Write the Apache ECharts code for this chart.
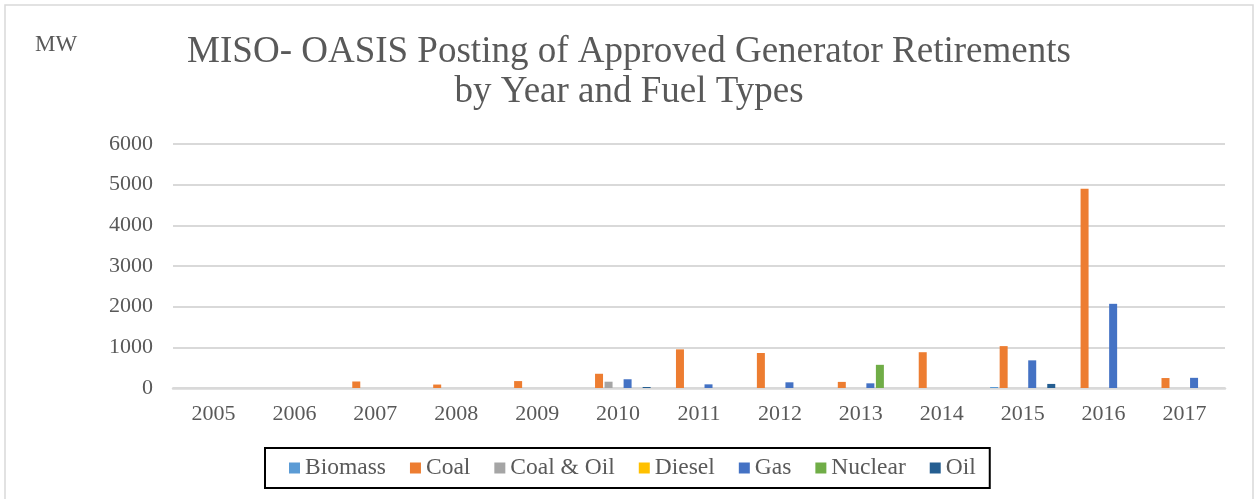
<!DOCTYPE html>
<html>
<head>
<meta charset="utf-8">
<script src="https://cdn.jsdelivr.net/npm/echarts@6/dist/echarts.min.js"></script>
<style>
	html, body { margin: 0; padding: 0; background: #fff; }
	#main { width: 1258px; height: 499px; }
</style>
</head>
<body>
<div id="main"></div>
<script>
	var years = ['2005', '2006', '2007', '2008', '2009', '2010', '2011', '2012', '2013', '2014', '2015', '2016', '2017'];
	var biomass = [0, 0, 0, 0, 0, 0, 0, 0, 0, 0, 25, 0, 0];
	var coal = [0, 0, 160, 85, 170, 350, 950, 860, 150, 880, 1030, 4900, 245];
	var coalOil = [0, 0, 0, 0, 0, 155, 0, 0, 0, 0, 0, 0, 0];
	var diesel = [0, 0, 0, 0, 0, 0, 0, 0, 0, 0, 0, 0, 0];
	var gas = [0, 0, 0, 0, 0, 215, 90, 140, 115, 0, 680, 2070, 250];
	var nuclear = [0, 0, 0, 0, 0, 0, 0, 0, 570, 0, 0, 0, 0];
	var oil = [0, 0, 0, 0, 0, 25, 0, 0, 0, 0, 100, 0, 0];
	var yTicks = [0, 1000, 2000, 3000, 4000, 5000, 6000];

	var myChart = echarts.init(document.getElementById('main'));
	var font = 'Liberation Serif, Times New Roman, serif';
	var textColor = '#595959';

	function bar(name, color, data) {
		return {
			name: name,
			type: 'bar',
			barWidth: 8,
			barGap: '19%',
			color: color,
			data: data
		};
	}

	var option = {
		animation: false,
		textStyle: { fontFamily: font },
		title: {
			text: 'MISO- OASIS Posting of Approved Generator Retirements\nby Year and Fuel Types',
			left: 'center',
			top: 27,
			textStyle: {
				fontFamily: font,
				fontSize: 37,
				fontWeight: 'normal',
				color: textColor,
				lineHeight: 40
			}
		},
		graphic: [{
			type: 'rect',
			shape: { x: 5, y: 5, width: 1248, height: 510 },
			style: { fill: 'none', stroke: '#d9d9d9', lineWidth: 1.5 },
			silent: true
		}, {
			type: 'text',
			left: 35,
			top: 33,
			style: { text: 'MW', font: '23px ' + font, fill: textColor }
		}],
		legend: {
			data: ['Biomass', 'Coal', 'Coal & Oil', 'Diesel', 'Gas', 'Nuclear', 'Oil'],
			left: 265,
			bottom: 11,
			icon: 'rect',
			itemWidth: 11,
			itemHeight: 11,
			itemGap: 24,
			borderColor: '#000',
			borderWidth: 2,
			padding: [8, 14, 8, 24],
			textStyle: { fontFamily: font, fontSize: 23.5, color: textColor }
		},
		grid: {
			left: 173,
			right: 33,
			top: 144,
			bottom: 111
		},
		xAxis: {
			type: 'category',
			data: years,
			axisTick: { show: false },
			axisLine: { lineStyle: { color: '#d9d9d9', width: 2.5 } },
			axisLabel: { fontFamily: font, fontSize: 22, color: textColor, margin: 15 }
		},
		yAxis: {
			type: 'value',
			min: yTicks[0],
			max: yTicks[yTicks.length - 1],
			interval: 1000,
			axisLine: { show: false },
			axisTick: { show: false },
			splitLine: { lineStyle: { color: '#d9d9d9', width: 2 } },
			axisLabel: {
				fontFamily: font,
				fontSize: 22,
				color: textColor,
				margin: 20,
				formatter: function (v) { return String(v); }
			}
		},
		series: [
			bar('Biomass', '#5B9BD5', biomass),
			bar('Coal', '#ED7D31', coal),
			bar('Coal & Oil', '#A5A5A5', coalOil),
			bar('Diesel', '#FFC000', diesel),
			bar('Gas', '#4472C4', gas),
			bar('Nuclear', '#70AD47', nuclear),
			bar('Oil', '#255E91', oil)
		]
	};

	option && myChart.setOption(option);
</script>
</body>
</html>
